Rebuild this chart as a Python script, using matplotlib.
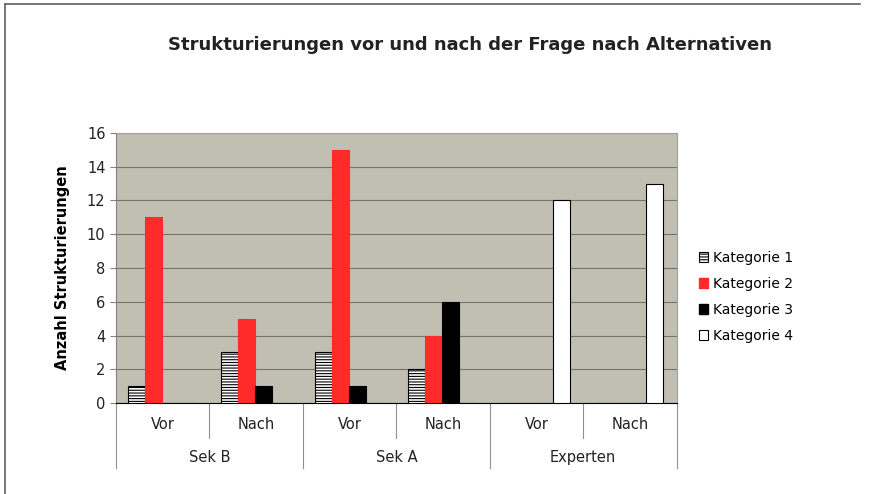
import matplotlib.pyplot as plt
import numpy as np
from matplotlib.lines import Line2D
from matplotlib.patches import Patch

# Strukturierungen je Gruppe (Vor / Nach)
groups = ["Sek B", "Sek A", "Experten"]
phases = ["Vor", "Nach"]
series_names = ["Kategorie 1", "Kategorie 2", "Kategorie 3", "Kategorie 4"]

kat1 = [1, 3, 3, 2, 0, 0]
kat2 = [11, 5, 15, 4, 0, 0]
kat3 = [0, 1, 1, 6, 0, 0]
kat4 = [0, 0, 0, 0, 12, 13]

plt.rcParams['font.family'] = ['DejaVu Sans']
plt.rcParams['hatch.color'] = '#555555'
plt.rcParams['hatch.linewidth'] = 0.8

fig = plt.figure(figsize=(8.72, 4.94), dpi=100)
ax = fig.add_axes([0.133, 0.184, 0.643, 0.547])

n = len(kat1)
x = np.arange(n)
w = 0.182
start = -0.5 + 0.128

styles = [
    dict(color='white', edgecolor='black', hatch='------'),
    dict(color='#ff2a2a', edgecolor='#ff2a2a'),
    dict(color='black', edgecolor='black'),
    dict(color='white', edgecolor='black'),
]
data = [kat1, kat2, kat3, kat4]
for i, (vals, st) in enumerate(zip(data, styles)):
    ax.bar(x + start + i * w + w / 2, vals, w, linewidth=0.8, zorder=3, **st)

ax.set_facecolor('#c0bfb2')
ax.set_xlim(-0.5, n - 0.5)
ax.set_ylim(0, 16)
ax.set_yticks(range(0, 17, 2))
ax.yaxis.grid(True, color='#75756a', linewidth=0.8, zorder=0)
ax.tick_params(axis='y', labelsize=10.5, length=4, color='#808080', colors='#222222')
ax.set_xticks([])
for s in ['top', 'right']:
    ax.spines[s].set_color('#a0a0a0')
ax.spines['left'].set_color('#808080')
ax.spines['bottom'].set_color('black')
ax.set_ylabel("Anzahl Strukturierungen", fontsize=10.5, fontweight='bold', labelpad=12)

# multi-level category axis
trans = ax.get_xaxis_transform()
for i in range(n):
    ax.text(i, -0.078, phases[i % 2], transform=trans, ha='center', va='center',
            fontsize=10.5, color='#222222')
for b in np.arange(-0.5, n, 1):
    if round(b + 0.5) % 2 == 0:
        y1 = -0.24
    else:
        y1 = -0.13
    ax.plot([b, b], [0, y1], transform=trans, color='#909090', linewidth=0.8, clip_on=False)
for g, name in enumerate(groups):
    ax.text(2 * g + 0.5, -0.2, name, transform=trans, ha='center', va='center',
            fontsize=10.5, color='#222222')

fig.text(0.539, 0.908, "Strukturierungen vor und nach der Frage nach Alternativen",
         ha='center', va='center', fontsize=13, fontweight='bold', color='#222222')

handles = [Patch(facecolor='white', edgecolor='black', hatch='------', linewidth=0.8),
           Patch(facecolor='#ff2a2a', edgecolor='#ff2a2a'),
           Patch(facecolor='black', edgecolor='black'),
           Patch(facecolor='white', edgecolor='black', linewidth=0.8)]
fig.legend(handles, series_names, loc='center left', bbox_to_anchor=(0.787, 0.399),
           frameon=False, fontsize=10, handlelength=0.7, handleheight=0.7,
           handletextpad=0.3, labelspacing=0.85)

# outer border lines (top and left)
fig.add_artist(Line2D([0.006, 0.986], [0.992, 0.992], color='#606060', linewidth=1.2))
fig.add_artist(Line2D([0.006, 0.006], [0.0, 0.992], color='#606060', linewidth=1.2))

fig.savefig("out.png", dpi=100)
